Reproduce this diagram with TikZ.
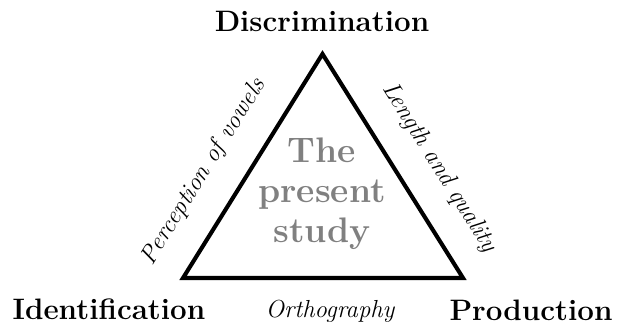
\documentclass[tikz,border=0pt]{standalone}
\usepackage{amsmath}
\usepackage{tikz}
\tikzset{
    corner/.style = {font=\Large\bfseries, anchor=base},
    side/.style = {font=\large\itshape, sloped, above=9pt},
    study/.style = {font=\fontsize{17.28}{19.5}\selectfont\bfseries, text=gray, align=center}
}

\begin{document}
\begin{tikzpicture}[x=0.487pt, y=0.487pt]
    \useasboundingbox (0,0) rectangle (617,328);
    \coordinate (D) at (322.5,274);
    \coordinate (I) at (183,50);
    \coordinate (P) at (463,50);
    \draw[line width = 2pt] (I) -- node[side, pos = .383] (vowels){Perception of vowels} (D)
        -- node[side, pos = .598] (quality){Length and quality} (P) -- cycle;
    \node[corner] (disc) at (322,296) {Discrimination};
    \node[corner] (ident) at (109,8) {Identification};
    \node[corner] (prod) at (531,7) {Production};
    \node[font=\large\itshape, anchor=base] (orth) at (330,10) {Orthography};
    \node[study] (study) at (322,134) {The\\present\\study};
\end{tikzpicture}
\end{document}
